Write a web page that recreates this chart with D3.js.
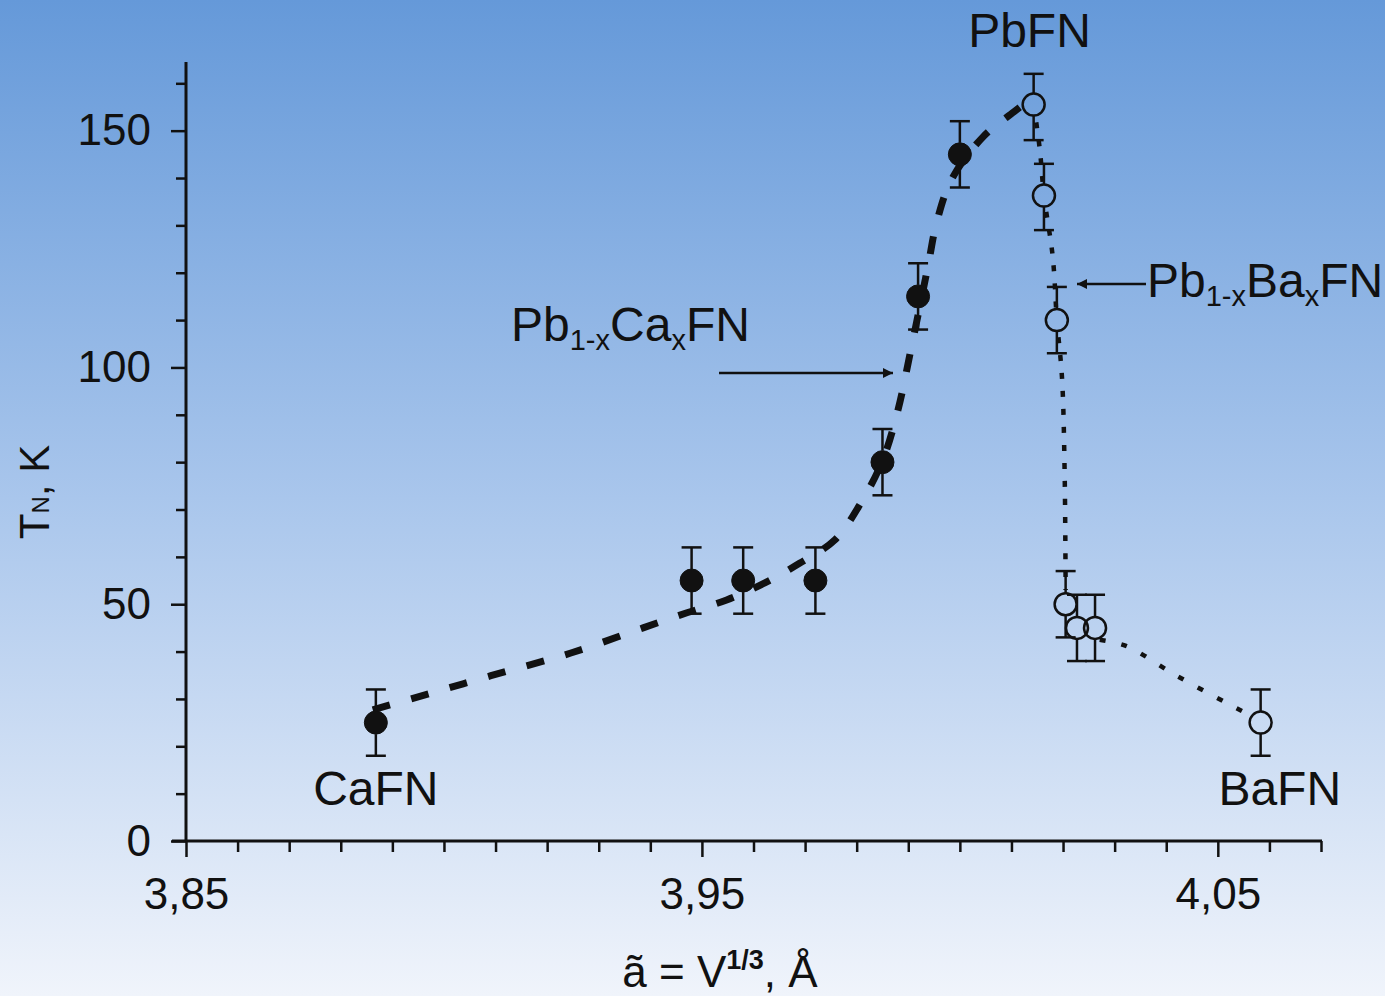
<!DOCTYPE html>
<html>
<head>
<meta charset="utf-8">
<script src="https://cdn.jsdelivr.net/npm/d3@7"></script>
<style>
  html, body { margin: 0; padding: 0; }
  body { width: 1385px; height: 996px; overflow: hidden; }
  text { font-family: "Liberation Sans", Arial, sans-serif; fill: #111; }
</style>
</head>
<body>
<div id="chart"></div>
<script>
const chartWidth = 1385;
const chartHeight = 996;

// Pb(1-x)Ca(x)FN, filled circles
const caX   = [3.8868, 3.948, 3.958, 3.972, 3.985, 3.9919, 4.000];
const caY   = [25, 55, 55, 55, 80, 115, 145];
const caLo  = [18, 48, 48, 48, 73, 108, 138];
const caHi  = [32, 62, 62, 62, 87, 122, 152];

// Pb(1-x)Ba(x)FN, open circles
const baX   = [4.0143, 4.0163, 4.0188, 4.0205, 4.0227, 4.0262, 4.0583];
const baY   = [155.5, 136.3, 110, 50, 45, 45, 25];
const baLo  = [148, 129, 103, 43, 38, 38, 18];
const baHi  = [162, 143, 117, 57, 52, 52, 32];

// guide curves
const caCurveX = [3.8862, 3.8936, 3.9091, 3.9246, 3.9386, 3.9471, 3.9548, 3.9622, 3.969, 3.9758, 3.9806, 3.985, 3.988, 3.9905, 3.9938, 3.9955, 3.9984, 4.0045, 4.0105, 4.0136];
const caCurveY = [27.7, 30.0, 34.9, 39.7, 45.0, 48.2, 50.9, 54.5, 58.7, 63.6, 71, 80.3, 91, 103.7, 121.3, 130.6, 139.7, 148.7, 154.0, 156.6];
const baCurveX = [4.0143, 4.0155, 4.0163, 4.018, 4.0188, 4.0198, 4.0203, 4.0205];
const baCurveY = [155.5, 146, 136.3, 123.4, 110.1, 97.8, 78.4, 53];
const baTailX  = [4.0271, 4.0322, 4.0417, 4.0516, 4.0562];
const baTailY  = [42.5, 41.2, 35.1, 29.2, 26.6];

const xMajor = [3.85, 3.95, 4.05];
const xMajorLabels = ["3,85", "3,95", "4,05"];
const yMajor = [0, 50, 100, 150];

var svg = d3.select("#chart")
  .append("svg")
  .attr("width", chartWidth)
  .attr("height", chartHeight);

var xScale = d3.scaleLinear()
  .domain([3.85, 4.07])
  .range([186, 1321]);

var yScale = d3.scaleLinear()
  .domain([0, 164.5])
  .range([841, 62]);

// background gradient
var defs = svg.append("defs");
var grad = defs.append("linearGradient")
  .attr("id", "bg")
  .attr("x1", 0).attr("y1", 0).attr("x2", 0).attr("y2", 1);
grad.append("stop").attr("offset", "0%").attr("stop-color", "#6599d9");
grad.append("stop").attr("offset", "50%").attr("stop-color", "#a9c6ec");
grad.append("stop").attr("offset", "100%").attr("stop-color", "#f0f4fb");

defs.append("marker")
  .attr("id", "arrow")
  .attr("viewBox", "0 0 10 10")
  .attr("refX", 10).attr("refY", 5)
  .attr("markerWidth", 6).attr("markerHeight", 4)
  .attr("markerUnits", "strokeWidth")
  .attr("orient", "auto")
  .append("path")
  .attr("d", "M0,0 L10,5 L0,10 z")
  .attr("fill", "#111");

// keep guide lines out of the hollow markers
var mask = defs.append("mask")
  .attr("id", "holes")
  .attr("maskUnits", "userSpaceOnUse")
  .attr("x", 0).attr("y", 0)
  .attr("width", chartWidth).attr("height", chartHeight);
mask.append("rect")
  .attr("width", chartWidth).attr("height", chartHeight)
  .attr("fill", "#fff");
mask.selectAll("circle")
  .data(d3.zip(baX, baY))
  .enter().append("circle")
  .attr("cx", d => xScale(d[0]))
  .attr("cy", d => yScale(d[1]))
  .attr("r", 10)
  .attr("fill", "#000");

svg.append("rect")
  .attr("width", chartWidth).attr("height", chartHeight)
  .attr("fill", "url(#bg)");

// axes
var minorX = d3.range(0, 23).map(i => +(3.85 + i * 0.01).toFixed(2));
var xAxis = d3.axisBottom(xScale)
  .tickValues(minorX)
  .tickSize(14)
  .tickSizeOuter(0)
  .tickFormat(d => {
    var k = xMajor.findIndex(m => Math.abs(m - d) < 1e-6);
    return k >= 0 ? xMajorLabels[k] : "";
  });

var gx = svg.append("g")
  .attr("transform", "translate(0," + yScale(0) + ")")
  .call(xAxis);
gx.select(".domain")
  .attr("d", "M" + (xScale(3.85) - 14) + ",0H" + (xScale(4.07) + 1))
  .attr("stroke", "#111").attr("stroke-width", 3);
gx.selectAll(".tick line")
  .attr("stroke", "#111").attr("stroke-width", 2.5)
  .attr("y2", d => xMajor.some(m => Math.abs(m - d) < 1e-6) ? 16 : 11);
gx.selectAll(".tick text")
  .attr("y", 37)
  .attr("dy", "0.71em")
  .style("font-size", "44px")
  .style("font-family", "'Liberation Sans', Arial, sans-serif")
  .attr("fill", "#111");

var minorY = d3.range(0, 17).map(i => i * 10);
var yAxis = d3.axisLeft(yScale)
  .tickValues(minorY)
  .tickSize(14)
  .tickSizeOuter(0)
  .tickFormat(d => yMajor.indexOf(d) >= 0 ? d : "");

var gy = svg.append("g")
  .attr("transform", "translate(" + xScale(3.85) + ",0)")
  .call(yAxis);
gy.select(".domain")
  .attr("d", "M0," + yScale(0) + "V" + yScale(164.5))
  .attr("stroke", "#111").attr("stroke-width", 3);
gy.selectAll(".tick line")
  .attr("stroke", "#111").attr("stroke-width", 2.5)
  .attr("x2", d => yMajor.indexOf(d) >= 0 ? -15 : -10);
gy.selectAll(".tick text")
  .attr("x", -35)
  .style("font-size", "44px")
  .style("font-family", "'Liberation Sans', Arial, sans-serif")
  .attr("fill", "#111");

// guide curves
var line = d3.line()
  .x(d => xScale(d[0]))
  .y(d => yScale(d[1]))
  .curve(d3.curveCatmullRom);

var guides = svg.append("g").attr("mask", "url(#holes)");

guides.append("path")
  .datum(d3.zip(caCurveX, caCurveY))
  .attr("fill", "none")
  .attr("stroke", "#111")
  .attr("stroke-width", 7)
  .attr("stroke-dasharray", "18,22")
  .attr("d", line);

guides.append("path")
  .datum(d3.zip(baCurveX, baCurveY))
  .attr("fill", "none")
  .attr("stroke", "#111")
  .attr("stroke-width", 4.5)
  .attr("stroke-dasharray", "6,12")
  .attr("d", line);

guides.append("path")
  .datum(d3.zip(baTailX, baTailY))
  .attr("fill", "none")
  .attr("stroke", "#111")
  .attr("stroke-width", 4.5)
  .attr("stroke-dasharray", "6,16")
  .attr("d", line);

// error bars + points
function drawSeries(xs, ys, lo, hi, filled) {
  var r = filled ? 11.5 : 11;
  var data = xs.map((x, i) => ({x: x, y: ys[i], lo: lo[i], hi: hi[i]}));
  var g = svg.append("g");
  var eb = g.selectAll("g.eb").data(data).enter().append("g").attr("class", "eb");
  // bar split around the marker so open circles stay hollow
  eb.append("line")
    .attr("x1", d => xScale(d.x)).attr("x2", d => xScale(d.x))
    .attr("y1", d => yScale(d.lo)).attr("y2", d => yScale(d.y) + r)
    .attr("stroke", "#111").attr("stroke-width", 2.5);
  eb.append("line")
    .attr("x1", d => xScale(d.x)).attr("x2", d => xScale(d.x))
    .attr("y1", d => yScale(d.y) - r).attr("y2", d => yScale(d.hi))
    .attr("stroke", "#111").attr("stroke-width", 2.5);
  ["lo", "hi"].forEach(k => {
    eb.append("line")
      .attr("x1", d => xScale(d.x) - 10).attr("x2", d => xScale(d.x) + 10)
      .attr("y1", d => yScale(d[k])).attr("y2", d => yScale(d[k]))
      .attr("stroke", "#111").attr("stroke-width", 2.5);
  });
  g.selectAll("circle").data(data).enter().append("circle")
    .attr("cx", d => xScale(d.x))
    .attr("cy", d => yScale(d.y))
    .attr("r", r)
    .attr("fill", filled ? "#111" : "none")
    .attr("stroke", "#111")
    .attr("stroke-width", filled ? 1 : 2.5);
}
drawSeries(caX, caY, caLo, caHi, true);
drawSeries(baX, baY, baLo, baHi, false);

// labels
function label(txt, x, y, size, anchor) {
  return svg.append("text")
    .attr("x", x).attr("y", y)
    .attr("text-anchor", anchor || "middle")
    .style("font-size", size + "px")
    .text(txt);
}
label("PbFN", xScale(4.0135), 47, 48);
label("CaFN", xScale(3.8868), 805, 48);
label("BaFN", xScale(4.062), 805, 48);

function formula(x, y, parts) {
  var t = svg.append("text").attr("x", x).attr("y", y).style("font-size", "48px");
  parts.forEach(p => {
    t.append("tspan")
      .attr("dy", p[1])
      .style("font-size", p[2] + "px")
      .text(p[0]);
  });
  return t;
}
formula(511, 341, [["Pb", 0, 48], ["1-x", 9, 29], ["Ca", -9, 48], ["x", 9, 29], ["FN", -9, 48]]);
formula(1147, 297, [["Pb", 0, 48], ["1-x", 9, 29], ["Ba", -9, 48], ["x", 9, 29], ["FN", -9, 48]]);

// arrows
svg.append("line")
  .attr("x1", 719).attr("y1", 373)
  .attr("x2", 893).attr("y2", 373)
  .attr("stroke", "#111").attr("stroke-width", 2.5)
  .attr("marker-end", "url(#arrow)");
svg.append("line")
  .attr("x1", 1146).attr("y1", 284)
  .attr("x2", 1077).attr("y2", 284)
  .attr("stroke", "#111").attr("stroke-width", 2.5)
  .attr("marker-end", "url(#arrow)");

// axis titles
var yt = svg.append("text")
  .attr("transform", "translate(49,492) rotate(-90)")
  .attr("text-anchor", "middle")
  .style("font-size", "42px");
yt.append("tspan").text("T");
yt.append("tspan").style("font-size", "24px").text("N");
yt.append("tspan").text(", K");

var xt = svg.append("text")
  .attr("x", 720).attr("y", 987)
  .attr("text-anchor", "middle")
  .style("font-size", "44px");
xt.append("tspan").text("ã = V");
xt.append("tspan").attr("dy", -18).style("font-size", "27px").style("font-weight", "bold").text("1/3");
xt.append("tspan").attr("dy", 18).text(", Å");
</script>
</body>
</html>
